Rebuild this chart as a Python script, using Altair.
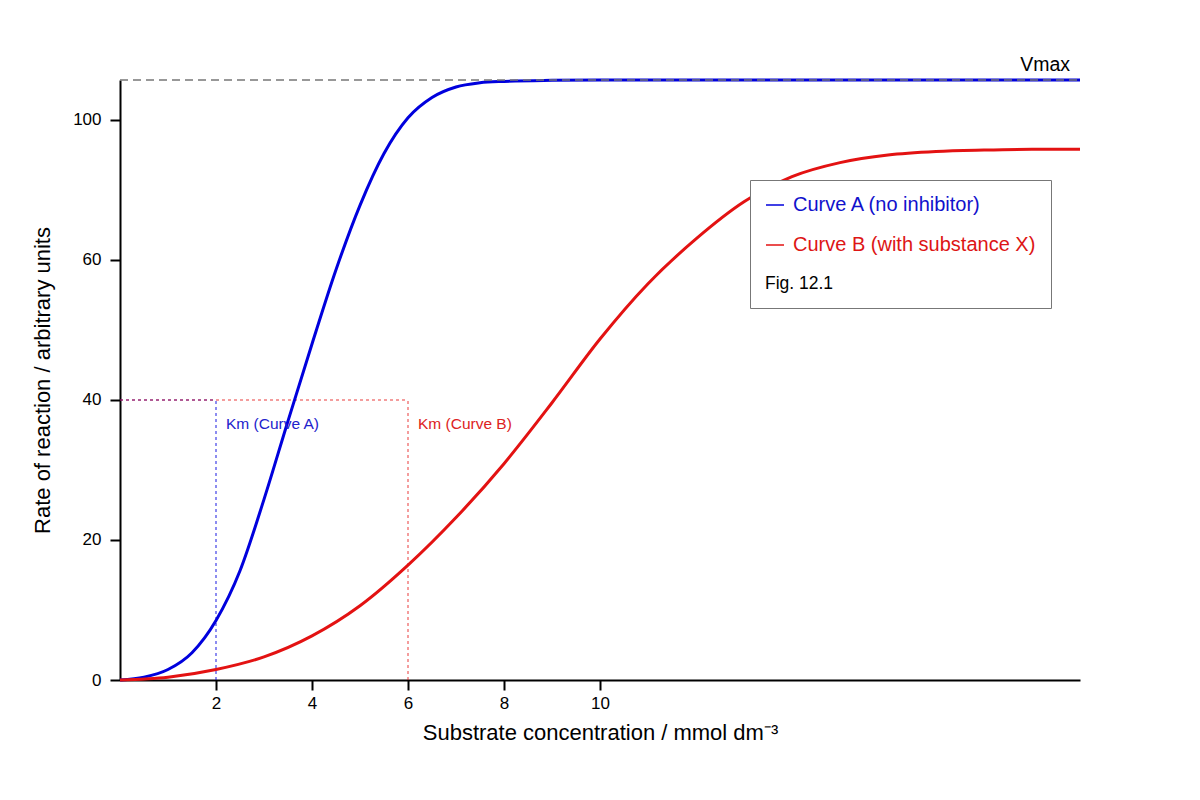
import altair as alt
import pandas as pd

FONT = "Liberation Sans"

# ---- data ----
series_names = ["Curve A (no inhibitor)", "Curve B (with substance X)"]

x_a = [0, 0.5, 1, 1.5, 2, 2.5, 3, 3.5, 4, 4.5, 5, 5.5, 6, 6.5, 7, 7.5, 8, 9, 10, 12, 14, 16, 18, 20]
y_a = [0, 0.4, 1.5, 3.9, 8.5, 15.6, 25.8, 37.0, 48.0, 58.6, 67.8, 75.2, 80.3, 83.2, 84.7, 85.3,
       85.5, 85.65, 85.7, 85.7, 85.7, 85.7, 85.7, 85.7]

x_b = [0, 1, 2, 3, 4, 5, 6, 7, 8, 9, 10, 11, 12, 13, 14, 15, 16, 17, 18, 19, 20]
y_b = [0, 0.4, 1.5, 3.3, 6.3, 10.6, 16.4, 23.2, 30.9, 39.6, 48.7, 56.6, 63.0, 68.3, 71.9, 73.9,
       75.0, 75.5, 75.7, 75.8, 75.8]

vmax = 85.7
km_a = 2
km_b = 6
km_level = 40
x_max = 20

x_tick_values = [2, 4, 6, 8, 10]
y_tick_values = [0, 20, 40, 60, 80]
y_tick_labels = ["0", "20", "40", "60", "100"]

BLUE = "#0000dd"
RED = "#e31212"

# ---- tables ----
curves = pd.DataFrame(
    {"x": x_a + x_b,
     "y": y_a + y_b,
     "series": [series_names[0]] * len(x_a) + [series_names[1]] * len(x_b)}
)

km_a_rules = pd.DataFrame({"x": [0, km_a], "x2": [km_a, km_a], "y": [km_level, 0], "y2": [km_level, km_level]})
km_b_rules = pd.DataFrame({"x": [0, km_b], "x2": [km_b, km_b], "y": [km_level, 0], "y2": [km_level, km_level]})
vmax_df = pd.DataFrame({"x": [0], "x2": [x_max], "y": [vmax], "label": ["Vmax"], "xt": [x_max]})
km_labels = pd.DataFrame({"x": [km_a, km_b], "y": [km_level, km_level],
                          "label": ["Km (Curve A)", "Km (Curve B)"],
                          "series": series_names})

# y tick label expression built from the lists
expr = "datum.label"
for v, l in zip(y_tick_values[::-1], y_tick_labels[::-1]):
    expr = f"datum.value == {v} ? '{l}' : ({expr})"

xscale = alt.Scale(domain=[0, x_max], nice=False, zero=True)
yscale = alt.Scale(domain=[0, vmax], nice=False, zero=True)

x_axis = alt.Axis(values=x_tick_values, title="Substrate concentration / mmol dm⁻³",
                  tickSize=10, tickWidth=2, domainWidth=2, domainColor="black", tickColor="black",
                  labelFontSize=17, labelPadding=5, labelColor="black", labelFont=FONT,
                  titleFontSize=22, titleFontWeight="normal", titleFont=FONT, titleColor="black",
                  titlePadding=11, grid=False, labelFlush=False)
y_axis = alt.Axis(values=y_tick_values, labelExpr=expr, title="Rate of reaction / arbitrary units",
                  tickSize=10, tickWidth=2, domainWidth=2, domainColor="black", tickColor="black",
                  labelFontSize=17, labelPadding=9, labelColor="black", labelFont=FONT,
                  titleFontSize=22, titleFontWeight="normal", titleFont=FONT, titleColor="black",
                  titlePadding=18, grid=False)

legend = alt.Legend(
    orient="none", legendX=630, legendY=100, direction="vertical",
    title="Fig. 12.1", titleOrient="bottom", titleAnchor="start",
    titleFontSize=17.5, titleFontWeight="normal", titleColor="black", titleFont=FONT, titlePadding=20,
    labelFontSize=20, labelFont=FONT, labelLimit=500,
    labelColor={"expr": f"datum.label == '{series_names[0]}' ? '#1111cc' : '#dd1515'"},
    symbolType="stroke", symbolSize=324, symbolStrokeWidth=1.5, labelOffset=8,
    rowPadding=20, padding=15, fillColor="white", strokeColor="#777777",
)

base_x = alt.X("x:Q", scale=xscale, axis=x_axis)
base_y = alt.Y("y:Q", scale=yscale, axis=y_axis)

rule_a = alt.Chart(km_a_rules).mark_rule(color=BLUE, strokeDash=[3, 3], strokeWidth=1.5, opacity=0.6).encode(
    x=alt.X("x:Q", scale=xscale), x2="x2:Q", y=alt.Y("y:Q", scale=yscale), y2="y2:Q")
rule_b = alt.Chart(km_b_rules).mark_rule(color=RED, strokeDash=[3, 3], strokeWidth=1.5, opacity=0.55).encode(
    x=alt.X("x:Q", scale=xscale), x2="x2:Q", y=alt.Y("y:Q", scale=yscale), y2="y2:Q")

lines = alt.Chart(curves).mark_line(strokeWidth=3, interpolate="monotone").encode(
    x=base_x, y=base_y,
    color=alt.Color("series:N", scale=alt.Scale(domain=series_names, range=[BLUE, RED]), legend=legend),
)

vmax_rule = alt.Chart(vmax_df).mark_rule(color="#777777", strokeDash=[8, 5], strokeWidth=1.5).encode(
    x=alt.X("x:Q", scale=xscale), x2="x2:Q", y=alt.Y("y:Q", scale=yscale))

vmax_text = alt.Chart(vmax_df).mark_text(align="right", baseline="middle", dx=-10, dy=-15,
                                         fontSize=19.5, font=FONT, color="black").encode(
    x=alt.X("xt:Q", scale=xscale), y=alt.Y("y:Q", scale=yscale), text="label:N")

km_text = alt.Chart(km_labels).mark_text(align="left", baseline="middle", dx=10, dy=24,
                                         fontSize=15.5, font=FONT).encode(
    x=alt.X("x:Q", scale=xscale), y=alt.Y("y:Q", scale=yscale), text="label:N",
    color=alt.Color("series:N", scale=alt.Scale(domain=series_names, range=["#2222cc", "#dd2222"]),
                    legend=None),
)

chart = alt.layer(rule_a, rule_b, lines, vmax_rule, vmax_text, km_text).resolve_scale(
    color="independent"
).properties(
    width=960, height=600,
    autosize=alt.AutoSizeParams(type="none"),
    padding={"left": 112, "top": 72, "right": 100, "bottom": 100},
    background="white",
).configure_view(stroke=None)

chart.save("out.html", embed_options={"renderer": "svg", "actions": False})
